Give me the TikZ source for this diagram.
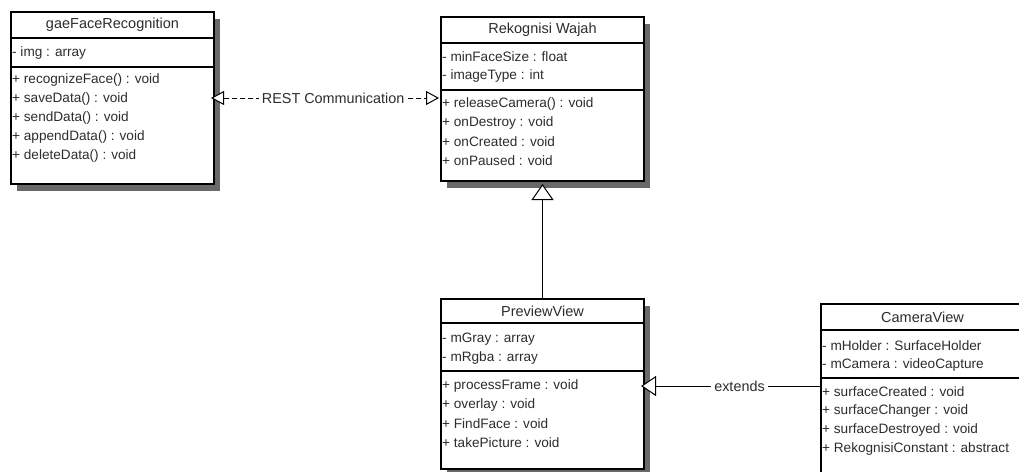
\documentclass[tikz,border=0pt]{standalone}
\usepackage{fontspec}
\setmainfont{Liberation Sans}
\usetikzlibrary{arrows.meta,shadows}
\definecolor{shadowgray}{RGB}{105,105,105}
\definecolor{ink}{RGB}{45,45,45}
\tikzset{
  classbox/.style={draw=black, line width=2pt, fill=white, inner sep=0pt,
    anchor=north west, minimum width=203pt,
    drop shadow={shadow xshift=6pt, shadow yshift=-7pt, fill=shadowgray, opacity=1}},
  member/.style={anchor=west, inner sep=0pt, text=ink,
    font=\fontsize{13.6}{14}\selectfont},
  classtitle/.style={anchor=center, inner sep=0pt, text=ink,
    font=\fontsize{14.5}{15}\selectfont},
  sepline/.style={line width=2pt, black},
  link/.style={line width=1pt, black},
  linklabel/.style={fill=white, inner sep=3pt, text=ink,
    font=\fontsize{14.4}{15}\selectfont},
  hollow/.tip={Triangle[fill=white, length=13pt, width=14pt]},
  hollowbig/.tip={Triangle[fill=white, length=16pt, width=22pt]},
  hollowmid/.tip={Triangle[fill=white, length=15pt, width=20pt]},
}
\begin{document}
\begin{tikzpicture}[x=1pt,y=-1pt]
\useasboundingbox (0,0) rectangle (1019,471);
\clip (0,0) rectangle (1019,471);

% ---------- gaeFaceRecognition ----------
\node[classbox, minimum height=172pt] (gae) at (10,11) {};
\draw[sepline] (gae.west |- 0,38) -- (gae.east |- 0,38);
\draw[sepline] (gae.west |- 0,67) -- (gae.east |- 0,67);
\node[classtitle] (gae-t) at (gae.north |- 0,24.5) {gaeFaceRecognition};
\node[member] (gae-a1) at (12,53) {- img : array};
\node[member] (gae-m1) at (12,80) {+ recognizeFace() : void};
\node[member] (gae-m2) at (12,99) {+ saveData() : void};
\node[member] (gae-m3) at (12,118) {+ sendData() : void};
\node[member] (gae-m4) at (12,137) {+ appendData() : void};
\node[member] (gae-m5) at (12,156) {+ deleteData() : void};

% ---------- Rekognisi Wajah ----------
\node[classbox, minimum height=164pt] (rek) at (440,16) {};
\draw[sepline] (rek.west |- 0,43) -- (rek.east |- 0,43);
\draw[sepline] (rek.west |- 0,90) -- (rek.east |- 0,90);
\node[classtitle] (rek-t) at (rek.north |- 0,29.5) {Rekognisi Wajah};
\node[member] (rek-a1) at (442,57) {- minFaceSize : float};
\node[member] (rek-a2) at (442,76) {- imageType : int};
\node[member] (rek-m1) at (442,104) {+ releaseCamera() : void};
\node[member] (rek-m2) at (442,123) {+ onDestroy : void};
\node[member] (rek-m3) at (442,142) {+ onCreated : void};
\node[member] (rek-m4) at (442,161) {+ onPaused : void};

% ---------- PreviewView ----------
\node[classbox, minimum height=170pt] (prev) at (440,298) {};
\draw[sepline] (prev.west |- 0,323) -- (prev.east |- 0,323);
\draw[sepline] (prev.west |- 0,371) -- (prev.east |- 0,371);
\node[classtitle] (prev-t) at (prev.north |- 0,311) {PreviewView};
\node[member] (prev-a1) at (442,339) {- mGray : array};
\node[member] (prev-a2) at (442,358) {- mRgba : array};
\node[member] (prev-m1) at (442,386) {+ processFrame : void};
\node[member] (prev-m2) at (442,405) {+ overlay : void};
\node[member] (prev-m3) at (442,424) {+ FindFace : void};
\node[member] (prev-m4) at (442,443) {+ takePicture : void};

% ---------- CameraView ----------
\node[classbox, minimum height=175pt] (cam) at (820,303) {};
\draw[sepline] (cam.west |- 0,330) -- (cam.east |- 0,330);
\draw[sepline] (cam.west |- 0,378) -- (cam.east |- 0,378);
\node[classtitle] (cam-t) at (cam.north |- 0,317) {CameraView};
\node[member] (cam-a1) at (822,346) {- mHolder : SurfaceHolder};
\node[member] (cam-a2) at (822,365) {- mCamera : videoCapture};
\node[member] (cam-m1) at (822,392) {+ surfaceCreated : void};
\node[member] (cam-m2) at (822,411) {+ surfaceChanger : void};
\node[member] (cam-m3) at (822,430) {+ surfaceDestroyed : void};
\node[member] (cam-m4) at (822,449) {+ RekognisiConstant : abstract};

% ---------- relations ----------
\draw[link, dash pattern=on 5pt off 3pt, {hollow}-{hollow},
      shorten <=-4pt, shorten >=1pt]
  (gae.east |- 0,98) -- (rek.west |- 0,98)
  node[linklabel, pos=0.525] (rest) {REST Communication};

\draw[link, -{hollowbig}, shorten >=2pt]
  (prev.north) -- (rek.south);

\draw[link, -{hollowmid}, shorten >=-4pt]
  (cam.west |- 0,386) -- (prev.east |- 0,386)
  node[linklabel, pos=0.46] (ext) {extends};
\end{tikzpicture}
\end{document}
